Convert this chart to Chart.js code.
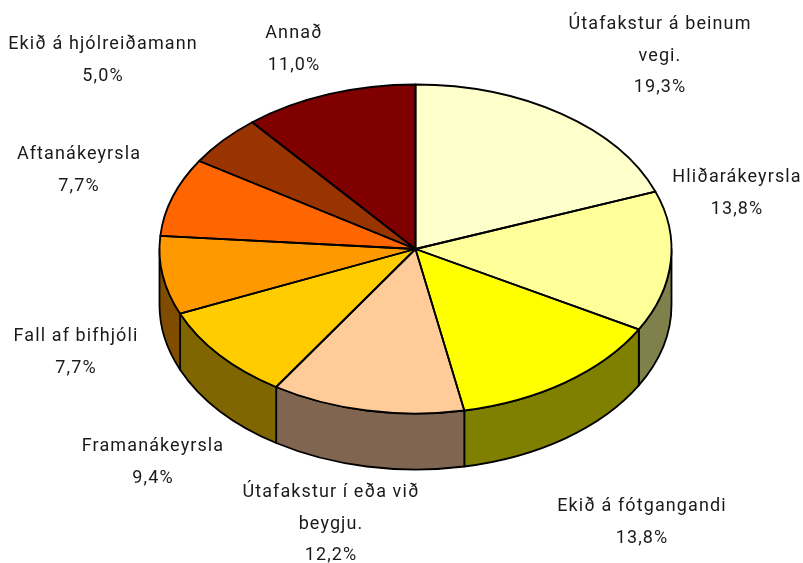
<!DOCTYPE html>
<html lang="is">
<head>
<meta charset="utf-8">
<style>html,body{margin:0;padding:0;background:#fff}canvas{display:block}</style>
<script src="https://cdn.jsdelivr.net/npm/chart.js@4"></script>
</head>
<body>
<canvas id="c" width="803" height="563"></canvas>
<script>
const categories = [
  ["Útafakstur á beinum","vegi."],
  ["Hliðarákeyrsla"],
  ["Ekið á fótgangandi"],
  ["Útafakstur í eða við","beygju."],
  ["Framanákeyrsla"],
  ["Fall af bifhjóli"],
  ["Aftanákeyrsla"],
  ["Ekið á hjólreiðamann"],
  ["Annað"]
];
const values = [19.3,13.8,13.8,12.2,9.4,7.7,7.7,5.0,11.0];
const faceColors = ["#FFFFCC","#FFFF99","#FFFF00","#FFCC99","#FFCC00","#FF9900","#FF6600","#993300","#800000"];
const wallColors = ["#808066","#80804D","#808000","#806650","#806600","#804D00","#803300","#4D1A00","#400000"];

// presentation settings for the tilted pie
const tilt = { cy: 249, ry: 164.5, depth: 56 };
const labelCentreX = [660,737,642,331,153,76,79,103,294];
const labelTopBaseline = [29,182,511,497,451,341,159,49,38];
const labelLineGap = 31.5;

const tiltPlugin = {
  id: 'tilt',
  beforeDatasetsDraw(chart) {
    const ctx = chart.ctx, arcs = chart.getDatasetMeta(0).data;
    ctx.save();
    ctx.lineWidth = 1.8; ctx.strokeStyle = '#000'; ctx.lineJoin = 'round';
    arcs.forEach((a, i) => {
      const s = Math.max(a.startAngle, 0), e = Math.min(a.endAngle, Math.PI);
      if (e <= s) return;
      const r = a.outerRadius;
      ctx.beginPath();
      ctx.ellipse(a.x, tilt.cy, r, tilt.ry, 0, s, e);
      ctx.ellipse(a.x, tilt.cy + tilt.depth, r, tilt.ry, 0, e, s, true);
      ctx.closePath();
      ctx.fillStyle = wallColors[i];
      ctx.fill(); ctx.stroke();
    });
    ctx.restore();
    const first = arcs[0];
    ctx.save();
    ctx.translate(first.x, tilt.cy);
    ctx.scale(1, tilt.ry / first.outerRadius);
    ctx.translate(-first.x, -first.y);
  },
  afterDatasetsDraw(chart) {
    const ctx = chart.ctx, arcs = chart.getDatasetMeta(0).data;
    ctx.restore();
    ctx.save();
    ctx.lineWidth = 1.8; ctx.strokeStyle = '#000'; ctx.lineJoin = 'round';
    arcs.forEach(a => {
      ctx.beginPath();
      ctx.moveTo(a.x, tilt.cy);
      ctx.ellipse(a.x, tilt.cy, a.outerRadius, tilt.ry, 0, a.startAngle, a.endAngle);
      ctx.closePath();
      ctx.stroke();
    });
    ctx.font = '18px Roboto';
    ctx.letterSpacing = '1.1px';
    ctx.fillStyle = '#1a1a1a';
    ctx.textAlign = 'center';
    ctx.textBaseline = 'alphabetic';
    categories.forEach((lines, i) => {
      const all = lines.concat([values[i].toFixed(1).replace('.', ',') + '%']);
      all.forEach((t, k) => ctx.fillText(t, labelCentreX[i], labelTopBaseline[i] + k * labelLineGap));
    });
    ctx.restore();
  }
};

new Chart(document.getElementById('c'), {
  type: 'pie',
  data: {
    labels: categories.map(l => l.join(' ')),
    datasets: [{ data: values, backgroundColor: faceColors, borderWidth: 0, clip: false }]
  },
  options: {
    responsive: false,
    animation: false,
    events: [],
    layout: { padding: { left: 159.5, right: 131.5, top: 25, bottom: 26 } },
    plugins: { legend: { display: false }, tooltip: { enabled: false } }
  },
  plugins: [tiltPlugin]
});
</script>
</body>
</html>
